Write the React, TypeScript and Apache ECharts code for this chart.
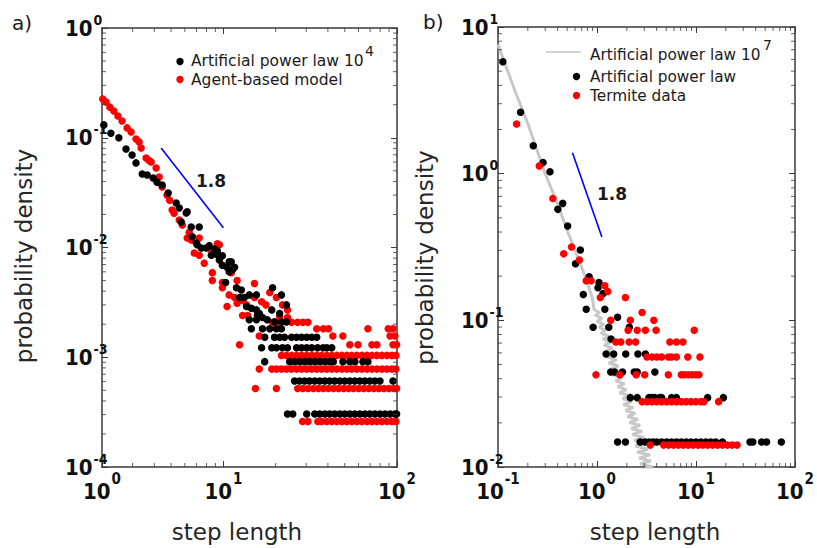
import React, { useEffect, useRef } from "react";
import * as echarts from "echarts";

// ---------- Panel a) ----------
// Artificial power law 10^4 (black), scattered part
const artificial4Scatter: [number, number][] = [
  [2.05, 0.131], [2.25, 0.11], [2.5, 0.1], [2.75, 0.079], [2.98, 0.0697], [3.14, 0.059],
  [3.41, 0.0468], [3.64, 0.0458], [3.94, 0.043], [4.15, 0.0394], [4.44, 0.0371], [4.81, 0.0313],
  [5.35, 0.0254], [5.57, 0.0229], [6.11, 0.0206], [6.19, 0.0212], [5.72, 0.0171], [6.53, 0.0154],
  [7.26, 0.0154], [6.62, 0.0125], [6.98, 0.011], [7.07, 0.0106], [7.46, 0.0099], [7.97, 0.0099],
  [8.3, 0.0104], [8.87, 0.0097], [8.52, 0.0085], [9.11, 0.0087], [9.23, 0.0093], [9.48, 0.0077],
  [9.87, 0.0084], [9.87, 0.0069], [10.5, 0.0066], [10.8, 0.0074], [11.1, 0.0074], [11.3, 0.0063],
  [10.8, 0.006], [11.6, 0.0066], [10.3, 0.0048], [11.9, 0.0043], [12.7, 0.0041], [12.4, 0.0035],
  [13.2, 0.0035], [14.1, 0.0037], [15.5, 0.0037], [19.2, 0.0043], [21.6, 0.0037], [23.1, 0.003],
  [13.6, 0.0029], [14.5, 0.0028], [15.5, 0.0027], [16.1, 0.0025], [15.7, 0.0024], [19.0, 0.0027],
  [21.1, 0.0025], [14.1, 0.0022], [15.5, 0.0022], [16.8, 0.0023], [17.9, 0.0022], [19.7, 0.0021],
  [21.6, 0.0021], [23.1, 0.0021],
];
// Artificial power law 10^4, quantised levels and the step lengths on each level
const artificial4Levels = [3.04e-4, 6.08e-4, 9.12e-4, 1.22e-3, 1.52e-3, 1.82e-3];
const artificial4LevelX: number[][] = [
  [23.4, 25.1, 30.2, 33.6, 35.9, 38.4, 41.0, 43.8, 46.9, 50.0, 53.5, 57.2, 61.1, 65.3, 69.8, 74.6, 79.8, 85.3, 91.2, 97.3, 99.5],
  [25.7, 27.5, 29.4, 31.4, 33.6, 35.9, 38.4, 41.0, 43.8, 46.9, 50.0, 53.5, 57.2, 61.1, 65.3, 69.8, 74.6, 79.8, 94.8],
  [17.3, 24.1, 25.7, 27.5, 29.4, 31.4, 33.6, 35.9, 38.4, 41.0, 43.0, 48.8, 53.5, 57.2, 63.6, 68.0],
  [16.6, 19.0, 20.2, 21.9, 23.4, 26.4, 28.2, 30.2, 32.3, 34.9, 37.5, 39.4, 42.1],
  [17.3, 19.7, 21.1, 22.5, 24.7, 26.4, 28.2, 30.2, 32.3, 34.5],
  [14.5, 16.8, 18.5, 20.2, 21.6],
];

// Agent-based model (red), scattered part
const agentScatter: [number, number][] = [
  [2.02, 0.225], [2.11, 0.212], [2.22, 0.19], [2.34, 0.175], [2.47, 0.158], [2.61, 0.142],
  [2.79, 0.123], [2.94, 0.113], [3.14, 0.0975], [3.27, 0.0914], [3.36, 0.0807], [3.59, 0.0654],
  [3.73, 0.062], [3.84, 0.0601], [4.1, 0.053], [4.27, 0.0439], [4.44, 0.0356], [4.74, 0.03],
  [4.9, 0.027], [5.07, 0.022], [5.2, 0.0205], [5.57, 0.0178], [5.8, 0.016], [6.19, 0.0122],
  [6.36, 0.0138], [6.53, 0.0117], [6.8, 0.0089], [7.26, 0.0122], [7.26, 0.0085], [7.76, 0.0072],
  [8.52, 0.0095], [8.64, 0.0059], [8.64, 0.005], [9.23, 0.0108], [9.48, 0.0106], [9.87, 0.0048],
  [9.87, 0.0043], [10.5, 0.0029], [10.8, 0.0037], [11.1, 0.0059], [11.6, 0.0035], [12.0, 0.005],
  [12.0, 0.0031], [12.9, 0.0033], [12.9, 0.0024], [13.6, 0.003], [13.8, 0.0024], [15.1, 0.0047],
  [15.1, 0.0035], [16.6, 0.0032], [17.6, 0.003], [18.5, 0.0039], [20.2, 0.0035], [21.9, 0.003],
  [23.4, 0.0027], [21.1, 0.0023], [23.4, 0.0023],
];
const agentLevels = [2.6e-4, 5.2e-4, 7.8e-4, 1.04e-3, 1.3e-3, 1.56e-3, 1.82e-3, 2.08e-3];
const agentLevelX: number[][] = [
  [28.6, 30.7, 35.0, 36.8, 39.4, 42.1, 45.0, 48.1, 51.4, 54.9, 58.7, 62.8, 67.1, 71.7, 76.6, 81.9, 87.5, 93.5, 98.6],
  [15.3, 20.2, 26.8, 28.7, 30.8, 33.0, 35.3, 37.7, 40.3, 43.1, 46.1, 49.3, 52.7, 56.3, 60.2, 64.4, 68.8, 73.6, 78.6, 84.1, 89.9, 96.1, 99.5],
  [16.1, 19.0, 20.2, 21.6, 23.1, 24.7, 26.4, 28.2, 30.2, 32.3, 34.5, 36.8, 39.4, 42.1, 45.0, 48.1, 51.4, 54.9, 58.7, 62.8, 67.1, 71.7, 76.6, 81.9, 87.5, 93.5, 98.6],
  [21.6, 23.1, 24.7, 26.4, 28.2, 30.2, 32.3, 34.5, 36.8, 39.4, 42.1, 45.0, 48.1, 51.4, 54.9, 58.7, 62.8, 67.1, 71.7, 76.6, 81.9, 87.5, 93.5, 98.6],
  [12.4, 53.5, 59.6, 71.7, 76.6, 94.8, 99.5],
  [16.1, 42.7, 48.8, 91.2, 97.3],
  [34.5, 37.7, 40.3, 68.0, 89.0, 94.8],
  [19.2, 21.1, 24.7, 26.8, 28.7, 30.7],
];
const slopeLineA: [number, number][] = [[4.38, 0.0807], [10.0, 0.0151]];

// ---------- Panel b) ----------
const artificial7Line: [number, number][] = [
  [0.1, 7.6], [0.15, 3.6], [0.2, 2.2], [0.3, 1.0], [0.4, 0.62], [0.5, 0.41], [0.6, 0.3],
  [0.7, 0.23], [0.8, 0.18], [0.9, 0.14],
  [0.934, 0.1187], [1.047, 0.1132], [0.977, 0.1081], [1.121, 0.1031], [1.0, 0.0984], [1.173, 0.094],
  [1.047, 0.0897], [1.228, 0.0856], [1.095, 0.0817], [1.315, 0.0779], [1.147, 0.0744], [1.376, 0.071],
  [1.173, 0.0678], [1.44, 0.0647], [1.228, 0.0617], [1.508, 0.0589], [1.285, 0.0562], [1.578, 0.0537],
  [1.315, 0.0512], [1.651, 0.0489], [1.376, 0.0467], [1.728, 0.0445], [1.44, 0.0425], [1.809, 0.0406],
  [1.542, 0.0387], [1.894, 0.0369], [1.614, 0.0353], [1.982, 0.0337], [1.689, 0.0321], [2.122, 0.0307],
  [1.809, 0.0293], [2.221, 0.0279], [1.851, 0.0266], [2.324, 0.0254], [1.937, 0.0243], [2.433, 0.0232],
  [2.028, 0.0221], [2.605, 0.0211], [2.122, 0.0201], [2.727, 0.0192], [2.221, 0.0183], [2.854, 0.0175],
  [2.272, 0.0167], [2.987, 0.0159], [2.378, 0.0152], [3.126, 0.0145], [2.433, 0.0139], [3.272, 0.0132],
  [2.546, 0.0126], [3.425, 0.0121], [2.665, 0.0115], [3.504, 0.011], [2.727, 0.0105], [3.667, 0.01],
  [2.854, 0.00954], [3.752, 0.00911], [2.92, 0.00869],
];
const artificialScatter: [number, number][] = [
  [0.112, 5.8], [0.169, 2.62], [0.227, 1.55], [0.285, 1.19], [0.335, 1.03], [0.45, 0.627],
  [0.402, 0.571], [0.505, 0.439], [0.679, 0.302], [0.606, 0.243], [0.833, 0.198], [1.047, 0.181],
  [1.023, 0.167], [0.727, 0.15], [1.147, 0.152], [0.778, 0.119], [1.2, 0.119], [1.614, 0.105],
  [0.913, 0.0897], [1.315, 0.0897], [2.12, 0.0897], [1.386, 0.0745],
];
const artificialLevels = [0.0148, 0.0297, 0.0444, 0.059];
const artificialLevelX: number[][] = [
  [1.614, 1.937, 2.726, 3.054, 3.345, 3.67, 4.01, 4.5, 5.05, 5.66, 6.34, 7.1, 7.96, 8.92, 10.0, 11.2, 12.6, 14.1, 15.8, 18.5, 35.1, 37.5, 46.0, 51.6, 72.7],
  [2.171, 2.546, 3.345, 3.59, 3.84, 4.3, 4.5, 5.66, 6.34, 13.1, 18.9],
  [1.376, 1.508, 1.809, 2.377, 2.546, 3.84],
  [1.236, 1.474, 1.95, 2.59, 3.08],
];
const termiteScatter: [number, number][] = [
  [0.154, 2.18], [0.261, 1.13], [0.358, 0.678], [0.553, 0.316], [0.461, 0.284], [0.664, 0.258],
  [0.778, 0.186], [0.872, 0.186], [1.2, 0.172], [1.285, 0.157], [1.08, 0.143], [1.937, 0.143],
  [2.853, 0.113], [1.376, 0.1], [2.171, 0.1], [3.748, 0.1],
];
const termiteLevels = [0.0141, 0.0279, 0.0425, 0.0562, 0.0711, 0.0856];
const termiteLevelX: number[][] = [
  [3.45, 4.71, 5.28, 5.92, 6.63, 7.43, 8.33, 9.34, 10.5, 11.7, 13.1, 14.7, 16.5, 18.5, 20.7, 23.2, 26.0],
  [2.853, 3.197, 3.59, 4.01, 4.5, 5.05, 5.66, 6.34, 7.1, 7.96, 8.92, 10.0, 11.2, 12.0, 16.9],
  [0.977, 1.7, 2.49, 3.03, 5.25, 7.1, 7.6, 8.33, 9.13, 10.0, 10.7],
  [3.197, 3.59, 4.01, 4.5, 5.28, 5.66, 6.34, 8.25, 10.95],
  [1.55, 1.74, 2.11, 2.45, 5.44, 6.34, 7.38],
  [2.06, 2.546, 3.08, 3.95, 9.6],
];
const slopeLineB: [number, number][] = [[0.565, 1.39], [1.12, 0.37]];

// minor tick values
const minorXa = [3, 4, 5, 6, 7, 8, 9, 20, 30, 40, 50, 60, 70, 80, 90];
const minorYa = [
  0.0002, 0.0003, 0.0004, 0.0005, 0.0006, 0.0007, 0.0008, 0.0009,
  0.002, 0.003, 0.004, 0.005, 0.006, 0.007, 0.008, 0.009,
  0.02, 0.03, 0.04, 0.05, 0.06, 0.07, 0.08, 0.09,
  0.2, 0.3, 0.4, 0.5, 0.6, 0.7, 0.8, 0.9,
];
const minorXb = [
  0.2, 0.3, 0.4, 0.5, 0.6, 0.7, 0.8, 0.9, 2, 3, 4, 5, 6, 7, 8, 9,
  20, 30, 40, 50, 60, 70, 80, 90,
];
const minorYb = [
  0.02, 0.03, 0.04, 0.05, 0.06, 0.07, 0.08, 0.09,
  0.2, 0.3, 0.4, 0.5, 0.6, 0.7, 0.8, 0.9, 2, 3, 4, 5, 6, 7, 8, 9,
];

const AXIS = "#3a3a3a";
const FONT = "DejaVu Sans";
const TICKFONT = "'Liberation Sans Narrow', 'DejaVu Sans Condensed', 'DejaVu Sans'";

function levelsToPoints(levels: number[], xs: number[][]): [number, number][] {
  const out: [number, number][] = [];
  levels.forEach((lv, i) => xs[i].forEach((x) => out.push([x, lv])));
  return out;
}

const expFmt = (v: number) => `{b|10}{s|${Math.round(Math.log10(v))}}`;

const yRich = {
  b: { fontFamily: TICKFONT, fontWeight: "bold", fontSize: 22, lineHeight: 22, color: "#111" },
  s: { fontFamily: TICKFONT, fontWeight: "bold", fontSize: 14, lineHeight: 14, color: "#111", padding: [0, 0, 17, 1] },
};
const xRich = {
  b: { fontFamily: TICKFONT, fontWeight: "bold", fontSize: 22, lineHeight: 22, color: "#111" },
  s: { fontFamily: TICKFONT, fontWeight: "bold", fontSize: 15, lineHeight: 15, color: "#111", padding: [0, 0, 25, 1] },
};

function tickSeries(xi: number, yi: number, pts: number[][], size: number[], offset: number[]) {
  return {
    type: "scatter", xAxisIndex: xi, yAxisIndex: yi, data: pts, symbol: "rect",
    symbolSize: size, symbolOffset: offset, itemStyle: { color: AXIS }, silent: true, clip: false, z: 5,
  };
}

function makeX(grid: number, min: number, max: number, bottom: boolean, name?: string, namePad?: number[]) {
  return {
    type: "log", logBase: 10, gridIndex: grid, min, max, position: bottom ? "bottom" : "top",
    axisLine: { show: true, lineStyle: { color: AXIS, width: 1.5 } },
    axisTick: { show: true, inside: true, length: 6, lineStyle: { color: AXIS, width: 1 } },
    axisLabel: bottom
      ? { show: true, formatter: expFmt, rich: xRich, margin: 13.5, showMinLabel: true, showMaxLabel: true }
      : { show: false },
    splitLine: { show: false },
    minorTick: { show: false },
    name: name || "",
    nameLocation: "middle",
    nameGap: 53,
    nameTextStyle: { fontFamily: FONT, fontSize: 23, color: "#262626", padding: namePad || 0 },
  };
}

function makeY(grid: number, min: number, max: number, left: boolean, name?: string, gap?: number, namePad?: number[]) {
  return {
    type: "log", logBase: 10, gridIndex: grid, min, max, position: left ? "left" : "right",
    axisLine: { show: true, lineStyle: { color: AXIS, width: 1.5 } },
    axisTick: { show: true, inside: true, length: 6, lineStyle: { color: AXIS, width: 1 } },
    axisLabel: left
      ? { show: true, formatter: expFmt, rich: yRich, margin: 37, align: "left", showMinLabel: true, showMaxLabel: true }
      : { show: false },
    splitLine: { show: false },
    name: name || "",
    nameLocation: "middle",
    nameGap: gap || 60,
    nameTextStyle: { fontFamily: FONT, fontSize: 23, color: "#262626", padding: namePad || 0 },
  };
}

export default function App() {
  const ref = useRef<HTMLDivElement>(null);
  useEffect(() => {
    if (!ref.current) return;
    const chart = echarts.init(ref.current, undefined, { renderer: "svg" });
    const dot = 7.5;
    const option: any = {
      animation: false,
      backgroundColor: "#ffffff",
      grid: [
        { left: 102, top: 28, width: 295, height: 439 },
        { left: 498, top: 27, width: 303, height: 445 },
      ],
      xAxis: [
        makeX(0, 2, 100, true, "step length", [0, 25, 0, 0]),
        makeX(0, 2, 100, false),
        makeX(1, 0.1, 100, true, "step length", [0, 0, 0, 17]),
        makeX(1, 0.1, 100, false),
      ],
      yAxis: [
        makeY(0, 1e-4, 1, true, "probability density", 67, [0, 17, 0, 0]),
        makeY(0, 1e-4, 1, false),
        makeY(1, 0.01, 10, true, "probability density", 62, [0, 21, 0, 0]),
        makeY(1, 0.01, 10, false),
      ],
      series: [
        // panel a minor ticks
        tickSeries(0, 0, minorXa.map((v) => [v, 1e-4]), [1, 4], [0, -2]),
        tickSeries(0, 0, minorXa.map((v) => [v, 1]), [1, 4], [0, 2]),
        tickSeries(0, 0, minorYa.map((v) => [2, v]), [4, 1], [2, 0]),
        tickSeries(0, 0, minorYa.map((v) => [100, v]), [4, 1], [-2, 0]),
        // panel b minor ticks
        tickSeries(2, 2, minorXb.map((v) => [v, 0.01]), [1, 4], [0, -2]),
        tickSeries(2, 2, minorXb.map((v) => [v, 10]), [1, 4], [0, 2]),
        tickSeries(2, 2, minorYb.map((v) => [0.1, v]), [4, 1], [2, 0]),
        tickSeries(2, 2, minorYb.map((v) => [100, v]), [4, 1], [-2, 0]),
        {
          name: "Agent-based model", type: "scatter", xAxisIndex: 0, yAxisIndex: 0,
          data: [...agentScatter, ...levelsToPoints(agentLevels, agentLevelX)],
          symbolSize: dot, itemStyle: { color: "#ff0000", opacity: 1 }, silent: true, z: 2,
        },
        {
          name: "Artificial power law 10^4", type: "scatter", xAxisIndex: 0, yAxisIndex: 0,
          data: [...artificial4Scatter, ...levelsToPoints(artificial4Levels, artificial4LevelX)],
          symbolSize: dot, itemStyle: { color: "#000000", opacity: 1 }, silent: true, z: 3,
        },
        {
          name: "slope a", type: "line", xAxisIndex: 0, yAxisIndex: 0, data: slopeLineA,
          symbol: "none", lineStyle: { color: "#0000ff", width: 1.6 }, silent: true, z: 4,
        },
        {
          name: "Artificial power law 10^7", type: "line", xAxisIndex: 2, yAxisIndex: 2, data: artificial7Line,
          symbol: "none", lineStyle: { color: "#c8c8c8", width: 3, join: "miter", miterLimit: 2 }, silent: true, z: 1,
        },
        {
          name: "Artificial power law", type: "scatter", xAxisIndex: 2, yAxisIndex: 2,
          data: [...artificialScatter, ...levelsToPoints(artificialLevels, artificialLevelX)],
          symbolSize: dot, itemStyle: { color: "#000000", opacity: 1 }, silent: true, z: 2,
        },
        {
          name: "Termite data", type: "scatter", xAxisIndex: 2, yAxisIndex: 2,
          data: [...termiteScatter, ...levelsToPoints(termiteLevels, termiteLevelX)],
          symbolSize: dot, itemStyle: { color: "#ff0000", opacity: 1 }, silent: true, z: 3,
        },
        {
          name: "slope b", type: "line", xAxisIndex: 2, yAxisIndex: 2, data: slopeLineB,
          symbol: "none", lineStyle: { color: "#0000ff", width: 1.6 }, silent: true, z: 4,
        },
      ],
      graphic: [
        { type: "text", left: 12, top: 13, style: { text: "a)", fontFamily: FONT, fontSize: 20, fill: "#1a1a1a" } },
        { type: "text", left: 423, top: 12, style: { text: "b)", fontFamily: FONT, fontSize: 20, fill: "#1a1a1a" } },
        // legend a
        { type: "circle", shape: { cx: 180, cy: 61.5, r: 3.7 }, style: { fill: "#000" } },
        { type: "text", x: 191, y: 61, style: { text: "Artificial power law 10", fontFamily: FONT, fontSize: 15.5, fill: "#1a1a1a", verticalAlign: "middle" } },
        { type: "text", x: 365, y: 51, style: { text: "4", fontFamily: FONT, fontSize: 14, fill: "#1a1a1a", verticalAlign: "middle" } },
        { type: "circle", shape: { cx: 180, cy: 79.5, r: 3.7 }, style: { fill: "#ff0000" } },
        { type: "text", x: 191, y: 79.5, style: { text: "Agent-based model", fontFamily: FONT, fontSize: 15.5, fill: "#1a1a1a", verticalAlign: "middle" } },
        // legend b
        { type: "line", shape: { x1: 546, y1: 52, x2: 581, y2: 52 }, style: { stroke: "#c4c4c4", lineWidth: 1.6 } },
        { type: "text", x: 590, y: 55, style: { text: "Artificial power law 10", fontFamily: FONT, fontSize: 15.3, fill: "#1a1a1a", verticalAlign: "middle" } },
        { type: "text", x: 763, y: 45, style: { text: "7", fontFamily: FONT, fontSize: 14, fill: "#1a1a1a", verticalAlign: "middle" } },
        { type: "circle", shape: { cx: 576.5, cy: 76.5, r: 3.7 }, style: { fill: "#000" } },
        { type: "text", x: 590, y: 76.5, style: { text: "Artificial power law", fontFamily: FONT, fontSize: 15.3, fill: "#1a1a1a", verticalAlign: "middle" } },
        { type: "circle", shape: { cx: 576.5, cy: 95.5, r: 3.7 }, style: { fill: "#ff0000" } },
        { type: "text", x: 590, y: 95.5, style: { text: "Termite data", fontFamily: FONT, fontSize: 15.3, fill: "#1a1a1a", verticalAlign: "middle" } },
        // slope labels
        { type: "text", x: 211, y: 181, style: { text: "1.8", fontFamily: FONT, fontWeight: "bold", fontSize: 17, fill: "#1a1a1a", align: "center", verticalAlign: "middle" } },
        { type: "text", x: 612, y: 193.5, style: { text: "1.8", fontFamily: FONT, fontWeight: "bold", fontSize: 17, fill: "#1a1a1a", align: "center", verticalAlign: "middle" } },
      ],
    };
    chart.setOption(option);
    return () => chart.dispose();
  }, []);
  return (
    <div
      ref={ref}
      style={{ position: "absolute", left: 0, top: 0, width: 817, height: 548 }}
    />
  );
}
